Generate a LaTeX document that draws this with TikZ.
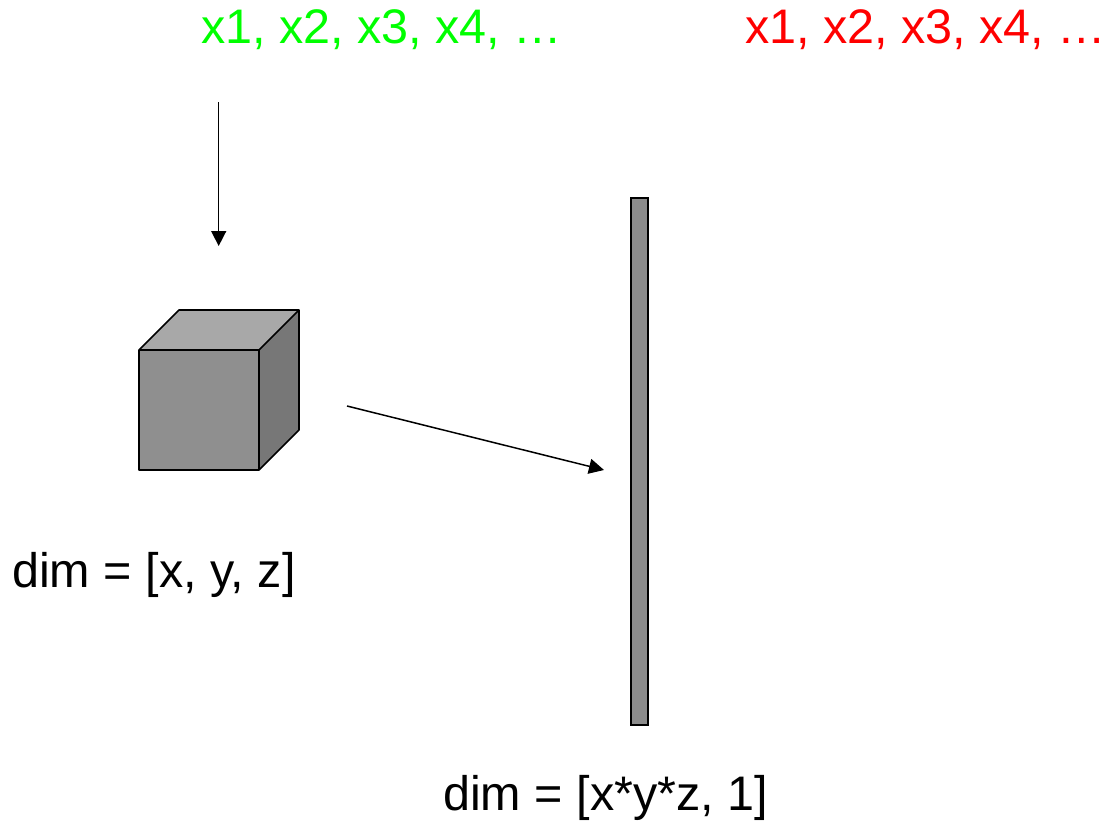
\documentclass[tikz,border=0pt]{standalone}
\usepackage{fontspec}
\setmainfont{Liberation Sans}
\usetikzlibrary{arrows.meta}
\definecolor{pgreen}{RGB}{0,255,0}
\definecolor{pred}{RGB}{255,0,0}
\definecolor{cfront}{RGB}{143,143,143}
\definecolor{ctop}{RGB}{168,168,168}
\definecolor{cside}{RGB}{119,119,119}
\definecolor{cbar}{RGB}{140,140,140}
\begin{document}
\begin{tikzpicture}[x=1pt,y=-1pt,
  lbl/.style={anchor=base west,inner sep=0pt,font=\fontsize{48.5}{58}\selectfont},
  face/.style={draw=black,line width=1.6pt,line join=round},
  conn/.style={line width=1.5pt,-{Triangle[length=15pt,width=15pt]}}]
\useasboundingbox (0,0) rectangle (1105,825);
% texts
\node[lbl,text=pgreen] (seqg) at (201,43) {x1, x2, x3, x4, …};
\node[lbl,text=pred] (seqr) at (745,43) {x1, x2, x3, x4, …};
\node[lbl] (dimc) at (12,587) {dim = [x, y, z]};
\node[lbl] (dimb) at (443,810) {dim = [x*y*z, 1]};
% cube
\fill[ctop] (139,350) -- (179,310) -- (299,310) -- (259,350) -- cycle;
\fill[cside] (259,350) -- (299,310) -- (299,430) -- (259,470) -- cycle;
\fill[cfront] (139,350) rectangle (259,470);
\draw[face] (139,350) -- (179,310) -- (299,310) -- (299,430) -- (259,470) -- (139,470) -- cycle
  (139,350) -- (259,350) -- (299,310) (259,350) -- (259,470);
% bar
\node[draw=black,line width=1.3pt,fill=cbar,minimum width=17pt,minimum height=527pt,inner sep=0pt] (bar) at (639.5,461.5) {};
% connectors
\coordinate (a1s) at (218.7,102);
\coordinate (a1e) at (218.7,246);
\coordinate (a2s) at (347,406);
\coordinate (a2e) at (604,470);
\draw[conn] (a1s) -- (a1e);
\draw[conn] (a2s) -- (a2e);
\end{tikzpicture}
\end{document}
